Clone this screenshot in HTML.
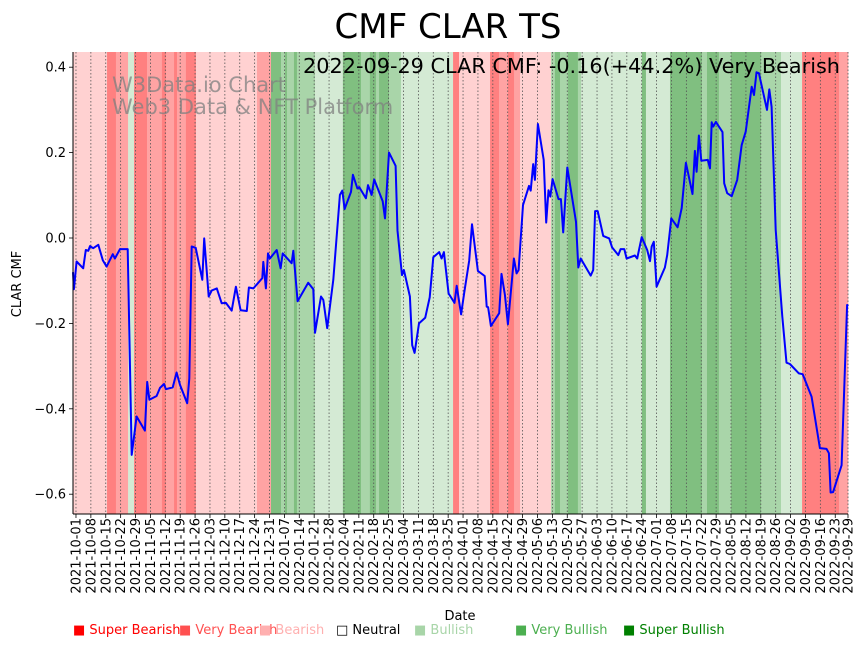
<!DOCTYPE html>
<html><head><meta charset="utf-8"><style>
body{margin:0;background:#fff;}
svg{display:block;font-family:"DejaVu Sans","Liberation Sans",sans-serif;}
</style></head><body>
<svg id="chart" width="867" height="646" viewBox="0 0 867 646" xmlns="http://www.w3.org/2000/svg">
<g id="bands"></g>
<g id="grid"></g>
<text x="112" y="92" font-size="21" fill="#808080" fill-opacity="0.75">W3Data.io Chart</text>
<text x="112" y="114" font-size="21" fill="#808080" fill-opacity="0.75">Web3 Data &amp; NFT Platform</text>
<g id="line"></g>
<g id="axes"></g>
<text x="448" y="38" font-size="34" text-anchor="middle" fill="#000">CMF CLAR TS</text>
<text x="840" y="73" font-size="20.8" text-anchor="end" fill="#000">2022-09-29 CLAR CMF: -0.16(+44.2%) Very Bearish</text>
<text x="460" y="620" font-size="13" text-anchor="middle">Date</text>
<text x="21" y="284" font-size="13" text-anchor="middle" transform="rotate(-90 21 284)">CLAR CMF</text>
<g font-size="13">
<text x="73" y="634" fill="#ff0000">■ Super Bearish</text>
<text x="179" y="634" fill="#ff5050">■ Very Bearish</text>
<text x="259" y="634" fill="#ffb0b0">■ Bearish</text>
<text x="336" y="634" fill="#000">□ Neutral</text>
<text x="414" y="634" fill="#a8d5a8">■ Bullish</text>
<text x="515" y="634" fill="#4caf50">■ Very Bullish</text>
<text x="623" y="634" fill="#008000">■ Super Bullish</text>
</g>
</svg>
<script>
// band start days (days since 2021-10-01) and sentiment levels
const bandStarts=[-1.4,14.6,18.8,24.5,27.3,33.4,40.4,42.3,46.1,47.5,51.7,56.4,85.1,91.7,96.4,98.3,99.2,102.5,103.9,112.4,125.5,134,138.2,141.1,142.5,147.2,152.8,177.3,180.1,194.7,198.9,203.1,206,208.8,223.4,225.2,227.6,231.3,236,237.5,266.1,268,279.3,294.3,296.7,302.3,308,322.1,331.5,341.4,358.8];
const bandLevels=[-1,-3,-2,1,-3,-2,-3,-2,-3,-2,-3,-1,-2,3,2,3,2,3,2,1,3,2,3,2,3,2,1,-3,-1,-3,-2,-3,-2,-1,2,3,2,3,2,1,3,1,3,2,3,2,3,2,1,-3,-2];
const seriesDays=[-1.4,-1,0.3,3.4,4.6,5.8,6.6,8.1,10.5,12.6,14.4,17.3,18.3,20.7,24.3,26.2,28.5,32.4,33.5,34.5,37.9,39.5,41.4,42.3,45.5,47.3,48.9,52.3,53.3,54.4,56.3,59.4,60.3,62.4,63.8,66.2,68.5,70.5,73.2,75.2,77.4,80.3,81.3,83.4,87.6,88.1,89.3,90.3,91.2,94.4,96.2,97.2,101.4,102.2,104.2,109.2,111.6,112.4,115.2,116.3,118.1,121,124.1,125.2,126.3,129.3,130.2,132.3,133.2,136.3,137.3,139,140.2,144.2,145.3,147.2,150.3,151.2,153.3,154.2,157,158.1,159.2,161.3,164.2,166.3,168,170.8,171.9,173,175.2,178,179,181.1,182.6,184.9,186.2,189,192.2,193.1,193.8,195.1,199,200.1,201.7,203.1,205.9,207.2,208.1,210.2,213,213.8,215,215.8,217.2,219.9,221.1,222.2,223,224.1,226.9,228,229.1,231,235.1,236.2,237.3,242,243.2,244.1,245.3,247.9,250.7,252.1,255,256.1,257.8,258.9,262.8,263.9,266,268.6,269.9,270.7,271.7,273,276.9,278,279.9,282.9,284.8,286.8,289.9,291,291.8,292.9,294,297.1,298.1,298.9,299.6,300.9,304,304.8,306.2,308.3,310.9,313,314.9,317.7,318.8,320,321.1,324.9,326,327.1,329,332.1,334.1,335.7,339.9,341.7,345.9,349.8,352.9,354,354.8,356,360,362.6,363];
const seriesValues=[-0.08,-0.12,-0.055,-0.071,-0.028,-0.030,-0.019,-0.024,-0.016,-0.052,-0.067,-0.038,-0.048,-0.026,-0.026,-0.508,-0.418,-0.451,-0.337,-0.379,-0.370,-0.351,-0.342,-0.354,-0.350,-0.315,-0.344,-0.387,-0.329,-0.020,-0.023,-0.098,-0.001,-0.137,-0.123,-0.118,-0.153,-0.152,-0.170,-0.114,-0.169,-0.171,-0.116,-0.118,-0.094,-0.056,-0.118,-0.036,-0.048,-0.028,-0.071,-0.036,-0.059,-0.030,-0.148,-0.105,-0.120,-0.222,-0.137,-0.145,-0.211,-0.098,0.101,0.111,0.068,0.108,0.148,0.116,0.119,0.093,0.124,0.101,0.137,0.086,0.046,0.200,0.169,0.017,-0.087,-0.075,-0.137,-0.251,-0.269,-0.200,-0.187,-0.139,-0.045,-0.033,-0.048,-0.033,-0.130,-0.152,-0.112,-0.179,-0.127,-0.053,0.032,-0.077,-0.089,-0.161,-0.162,-0.206,-0.176,-0.084,-0.133,-0.202,-0.048,-0.083,-0.075,0.077,0.122,0.111,0.173,0.136,0.267,0.183,0.036,0.112,0.097,0.138,0.091,0.091,0.013,0.165,0.038,-0.069,-0.048,-0.088,-0.075,0.063,0.063,0.005,-0.001,-0.022,-0.040,-0.026,-0.026,-0.048,-0.041,-0.048,0.002,-0.028,-0.054,-0.020,-0.009,-0.114,-0.069,-0.040,0.046,0.025,0.070,0.176,0.103,0.204,0.155,0.240,0.181,0.183,0.163,0.271,0.261,0.272,0.248,0.128,0.105,0.098,0.136,0.218,0.249,0.354,0.335,0.388,0.386,0.300,0.348,0.307,0.019,-0.184,-0.292,-0.295,-0.317,-0.319,-0.372,-0.492,-0.494,-0.504,-0.596,-0.595,-0.532,-0.157,-0.16];
const yTicks=[0.4,0.2,0.0,-0.2,-0.4,-0.6];
const yTickLabels=["0.4","0.2","0.0","\u22120.2","\u22120.4","\u22120.6"];
const xTickDays=[0,7,14,21,28,35,42,49,56,63,70,77,84,91,98,105,112,119,126,133,140,147,154,161,168,175,182,189,196,203,210,217,224,231,238,245,252,259,266,273,280,287,294,301,308,315,322,329,336,343,350,357,363];

const NS="http://www.w3.org/2000/svg";
const X0=73,X1=848,Y0=52,Y1=514,D0=-1.4,D1=363;
const xs=d=>X0+(d-D0)*(X1-X0)/(D1-D0);
const ys=v=>238-v*427;
const bandColor={"-3":"#ff8080","-2":"#ffa3a3","-1":"#ffd1d1","1":"#d4ead4","2":"#a9d5a9","3":"#80bf80"};
function mk(tag,attrs,parent){const e=document.createElementNS(NS,tag);for(const k in attrs)e.setAttribute(k,attrs[k]);parent.appendChild(e);return e;}
const bandsG=document.getElementById('bands');
bandStarts.forEach((s,i)=>{
  const e=i+1<bandStarts.length?bandStarts[i+1]:D1;
  const r=mk('rect',{x:xs(s),y:Y0,width:xs(e)-xs(s)+0.3,height:Y1-Y0,fill:bandColor[bandLevels[i]]},bandsG);
  
  
});
const gridG=document.getElementById('grid');
const axesG=document.getElementById('axes');
const base=new Date(Date.UTC(2021,9,1));
xTickDays.forEach(d=>{
  const x=xs(d);
  const g=mk('line',{x1:x,x2:x,y1:Y0,y2:Y1,stroke:'#555','stroke-width':0.8,'stroke-dasharray':'1.5,2'},gridG);
  
  
  const t=mk('line',{x1:x,x2:x,y1:Y1,y2:Y1+4,stroke:'#000','stroke-width':0.8},axesG);
  
  
  const dt=new Date(base.getTime()+d*86400000);
  const lab=dt.toISOString().slice(0,10);
  const tx=mk('text',{x:x+4.5,y:518,'font-size':13,'text-anchor':'end',transform:`rotate(-90 ${x+4.5} 518)`},axesG);
  tx.textContent=lab;
  
  
});
yTicks.forEach((v,i)=>{
  const y=ys(v);
  const t=mk('line',{x1:X0-4,x2:X0,y1:y,y2:y,stroke:'#000','stroke-width':0.8},axesG);
  
  
  const tx=mk('text',{x:X0-7,y:y+4.5,'font-size':13,'text-anchor':'end'},axesG);
  tx.textContent=yTickLabels[i];
  
  
});
const sp1=mk('line',{x1:X0,x2:X0,y1:Y0,y2:Y1,stroke:'#000','stroke-width':1},axesG);


const sp2=mk('line',{x1:X0,x2:X1,y1:Y1,y2:Y1,stroke:'#000','stroke-width':1},axesG);


const pts=seriesDays.map((d,i)=>xs(d).toFixed(1)+','+ys(seriesValues[i]).toFixed(1)).join(' ');
const pl=mk('polyline',{points:pts,fill:'none',stroke:'#0000ff','stroke-width':2,'stroke-linejoin':'round'},document.getElementById('line'));


</script>
</body></html>
